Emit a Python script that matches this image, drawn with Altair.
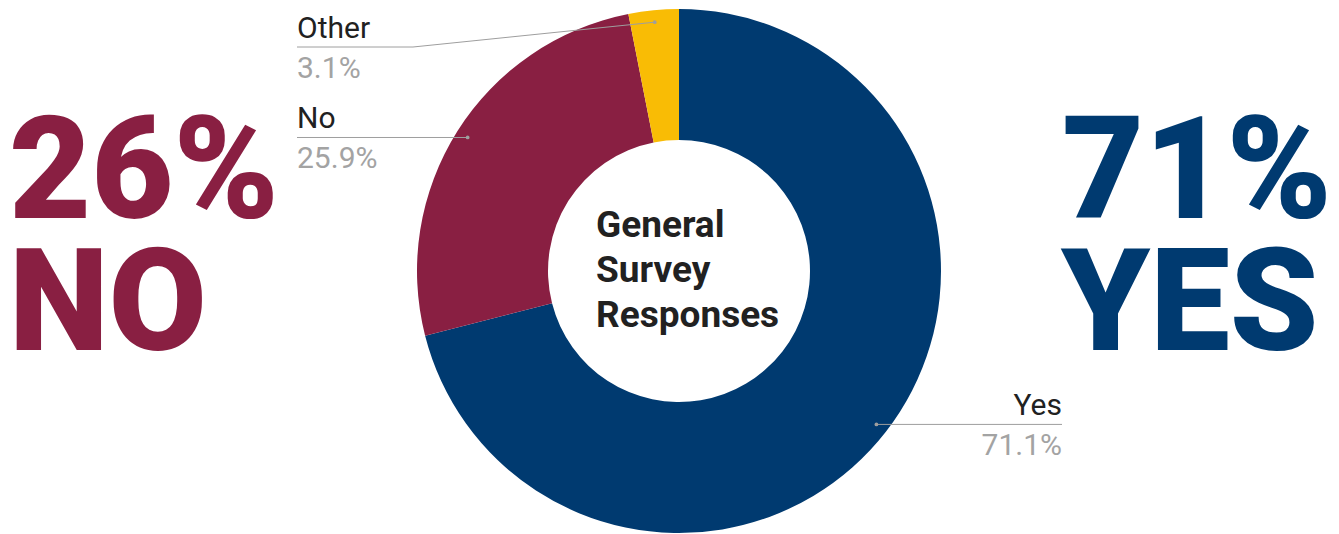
import altair as alt
import pandas as pd

# ---- data ----
categories = ["Yes", "No", "Other"]
values = [71.1, 25.9, 3.1]
value_labels = ["71.1%", "25.9%", "3.1%"]
colors = ["#003a70", "#891f42", "#f9bc05"]
big_left = ["26%", "NO"]
big_right = ["71%", "YES"]
title_lines = ["General", "Survey", "Responses"]

# ---- layout ----
CX, CY = 679, 271
R_OUT, R_IN, R_DOT = 262, 131, 250
NAVY, MAROON = colors[0], colors[1]
LINE_GRAY = "#9e9e9e"
FONT = "Roboto"

label_layout = {
    "Yes": dict(side="right", anchor=1062, fix_y=None, fix_x=None),
    "No": dict(side="left", anchor=297, fix_y=None, fix_x=None),
    "Other": dict(side="left", anchor=297, fix_y=47, fix_x=413),
}

df = pd.DataFrame({
    "category": categories,
    "value": values,
    "vlabel": value_labels,
    "idx": list(range(len(categories))),
})
df["side"] = [label_layout[c]["side"] for c in categories]
df["anchor"] = [label_layout[c]["anchor"] for c in categories]
df["fix_y"] = pd.Series([label_layout[c]["fix_y"] for c in categories], dtype="float")
df["fix_x"] = pd.Series([label_layout[c]["fix_x"] for c in categories], dtype="float")

color_scale = alt.Scale(domain=categories, range=colors)

donut = alt.Chart(df).mark_arc(
    innerRadius=R_IN, outerRadius=R_OUT, x=CX, y=CY
).encode(
    theta=alt.Theta("value:Q", stack=True),
    order=alt.Order("idx:Q"),
    color=alt.Color("category:N", scale=color_scale, legend=None),
)

base = (
    alt.Chart(df)
    .transform_window(cum="sum(value)", sort=[alt.SortField("idx", order="ascending")])
    .transform_joinaggregate(total="sum(value)")
    .transform_calculate(mid="2*PI*(datum.cum - datum.value/2)/datum.total")
    .transform_calculate(dot_x=f"{CX} + {R_DOT}*sin(datum.mid)")
    .transform_calculate(dot_y=f"{CY} - {R_DOT}*cos(datum.mid)")
    .transform_calculate(ly="isValid(datum.fix_y) ? datum.fix_y : datum.dot_y")
    .transform_calculate(ex="isValid(datum.fix_x) ? datum.fix_x : datum.dot_x")
    .transform_calculate(name_y="datum.ly - 9")
    .transform_calculate(val_y="datum.ly + 31")
)

seg_h = base.mark_rule(color=LINE_GRAY, strokeWidth=1).encode(
    x=alt.X("anchor:Q", scale=None, axis=None),
    x2="ex:Q",
    y=alt.Y("ly:Q", scale=None, axis=None),
    y2="ly:Q",
)
seg_d = base.mark_rule(color=LINE_GRAY, strokeWidth=1).encode(
    x=alt.X("dot_x:Q", scale=None, axis=None),
    x2="ex:Q",
    y=alt.Y("dot_y:Q", scale=None, axis=None),
    y2="ly:Q",
)
dots = base.mark_circle(color=LINE_GRAY, size=14, opacity=1).encode(
    x=alt.X("dot_x:Q", scale=None, axis=None),
    y=alt.Y("dot_y:Q", scale=None, axis=None),
)


def side_labels(side, align):
    b = base.transform_filter(alt.datum.side == side)
    names = b.mark_text(align=align, baseline="alphabetic", fontSize=30, font=FONT,
                        color="#212121").encode(
        x=alt.X("anchor:Q", scale=None, axis=None),
        y=alt.Y("name_y:Q", scale=None, axis=None),
        text="category:N",
    )
    vals = b.mark_text(align=align, baseline="alphabetic", fontSize=30, font=FONT,
                       color="#a3a3a3").encode(
        x=alt.X("anchor:Q", scale=None, axis=None),
        y=alt.Y("val_y:Q", scale=None, axis=None),
        text="vlabel:N",
    )
    return [names, vals]


def text_line(txt, x, y, size, color, weight="normal", align="left"):
    return alt.Chart(pd.DataFrame({"t": [txt]})).mark_text(
        align=align, baseline="alphabetic", fontSize=size, fontWeight=weight,
        font=FONT, color=color,
    ).encode(x=alt.value(x), y=alt.value(y), text="t:N")


layers = [donut, seg_h, seg_d, dots]
layers += side_labels("left", "left")
layers += side_labels("right", "right")
layers += [
    text_line(big_left[0], 9, 218, 142, MAROON, 900),
    text_line(big_left[1], 9, 350, 142, MAROON, 900),
    text_line(big_right[0], 1062, 218, 142, NAVY, 900),
    text_line(big_right[1], 1061, 350, 142, NAVY, 900),
    text_line(title_lines[0], 596, 237, 37, "#212121", "bold"),
    text_line(title_lines[1], 596, 282, 37, "#212121", "bold"),
    text_line(title_lines[2], 596, 327, 37, "#212121", "bold"),
]

chart = alt.layer(*layers).properties(
    width=1339, height=534, padding=0, autosize=alt.AutoSizeParams(type="none"),
    background="white",
).configure_view(stroke=None)

chart.save("out.html", embed_options={"renderer": "svg", "actions": False})
